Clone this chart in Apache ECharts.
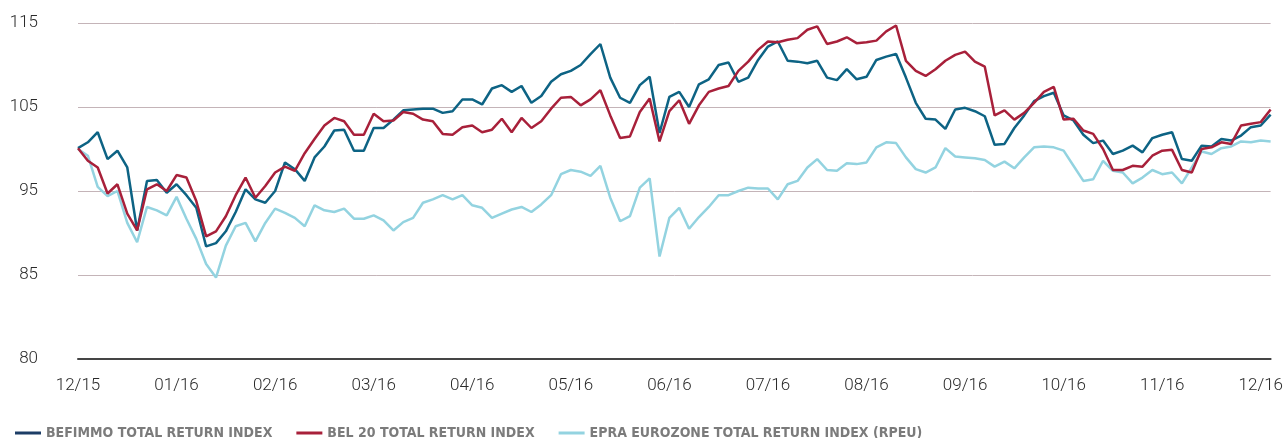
<!DOCTYPE html>
<html>
<head>
<meta charset="utf-8">
<title>Total return index</title>
<script src="https://cdn.jsdelivr.net/npm/echarts@6/dist/echarts.min.js"></script>
<style>
  html, body { margin: 0; padding: 0; background: #fff; }
  #chart { width: 1286px; height: 438px; }
</style>
</head>
<body>
<div id="chart"></div>
<script>
// month labels shown under the axis, one every 10 points
var tickLabels = ['12/15', '01/16', '02/16', '03/16', '04/16', '05/16', '06/16',
  '07/16', '08/16', '09/16', '10/16', '11/16', '12/16']

// values, ~10 points per month
var befimmo = [
  100.1, 100.8, 102.0, 98.8, 99.8, 97.8, 90.3, 96.2, 96.3, 94.8,
  95.8, 94.5, 93.0, 88.4, 88.8, 90.2, 92.5, 95.2, 94.0, 93.6,
  95.0, 98.4, 97.6, 96.2, 99.0, 100.3, 102.2, 102.3, 99.8, 99.8,
  102.5, 102.5, 103.5, 104.6, 104.7, 104.8, 104.8, 104.3, 104.5, 105.9,
  105.9, 105.3, 107.2, 107.6, 106.8, 107.5, 105.5, 106.3, 108.0, 108.9,
  109.3, 110.0, 111.3, 112.5, 108.5, 106.1, 105.5, 107.6, 108.6, 101.9,
  106.2, 106.8, 105.0, 107.7, 108.3, 110.0, 110.3, 108.0, 108.5, 110.6,
  112.2, 112.8, 110.5, 110.4, 110.2, 110.5, 108.5, 108.2, 109.5, 108.3,
  108.6, 110.6, 111.0, 111.3, 108.5, 105.5, 103.6, 103.5, 102.4, 104.7,
  104.9, 104.5, 103.9, 100.5, 100.6, 102.5, 104.0, 105.7, 106.3, 106.7,
  104.0, 103.4, 101.7, 100.7, 101.0, 99.4, 99.8, 100.4, 99.6, 101.3,
  101.7, 102.0, 98.8, 98.6, 100.4, 100.3, 101.2, 101.0, 101.6, 102.6,
  102.8, 104.1
]
var bel20 = [
  100.1, 98.6, 97.8, 94.7, 95.8, 92.3, 90.3, 95.2, 95.8, 95.0,
  96.9, 96.6, 93.8, 89.6, 90.2, 92.0, 94.5, 96.6, 94.2, 95.6,
  97.2, 97.9, 97.4, 99.5, 101.2, 102.8, 103.7, 103.3, 101.7, 101.7,
  104.2, 103.3, 103.4, 104.4, 104.2, 103.5, 103.3, 101.8, 101.7, 102.6,
  102.8, 102.0, 102.3, 103.6, 102.0, 103.7, 102.5, 103.3, 104.8, 106.1,
  106.2, 105.2, 105.9, 107.0, 104.0, 101.3, 101.5, 104.4, 106.0, 100.9,
  104.5, 105.8, 103.0, 105.2, 106.8, 107.2, 107.5, 109.3, 110.4, 111.8,
  112.8, 112.7, 113.0, 113.2, 114.2, 114.6, 112.5, 112.8, 113.3, 112.6,
  112.7, 112.9, 114.0, 114.7, 110.5, 109.3, 108.7, 109.5, 110.5, 111.2,
  111.6, 110.4, 109.8, 104.0, 104.6, 103.5, 104.3, 105.5, 106.8, 107.4,
  103.5, 103.6, 102.2, 101.8, 100.0, 97.5, 97.5, 98.0, 97.9, 99.2,
  99.8, 99.9, 97.5, 97.2, 100.0, 100.2, 100.8, 100.6, 102.8, 103.0,
  103.2, 104.7
]
var epra = [
  100.0, 99.2, 95.5, 94.4, 95.0, 91.2, 88.9, 93.1, 92.7, 92.1,
  94.3, 91.7, 89.3, 86.3, 84.7, 88.5, 90.8, 91.2, 89.0, 91.2,
  92.9, 92.4, 91.8, 90.8, 93.3, 92.7, 92.5, 92.9, 91.7, 91.7,
  92.1, 91.5, 90.3, 91.3, 91.8, 93.6, 94.0, 94.5, 94.0, 94.5,
  93.3, 93.0, 91.8, 92.3, 92.8, 93.1, 92.5, 93.4, 94.5, 97.0,
  97.5, 97.3, 96.8, 98.0, 94.2, 91.4, 92.0, 95.4, 96.5, 87.2,
  91.8, 93.0, 90.5, 91.9, 93.1, 94.5, 94.5, 95.0, 95.4, 95.3,
  95.3, 94.0, 95.8, 96.2, 97.8, 98.8, 97.5, 97.4, 98.3, 98.2,
  98.4, 100.2, 100.8, 100.7, 99.0, 97.6, 97.2, 97.8, 100.1, 99.1,
  99.0, 98.9, 98.7, 97.9, 98.5, 97.7, 99.0, 100.2, 100.3, 100.2,
  99.8, 98.0, 96.2, 96.4, 98.6, 97.4, 97.2, 95.9, 96.6, 97.5,
  97.0, 97.2, 95.9, 97.8, 99.7, 99.4, 100.1, 100.3, 100.9, 100.8,
  101.0, 100.9
]

var seriesNames = ['BEFIMMO TOTAL RETURN INDEX', 'BEL 20 TOTAL RETURN INDEX', 'EPRA EUROZONE TOTAL RETURN INDEX (RPEU)']
var colors = ['#0d6384', '#a8203a', '#93d3e0']

var categories = befimmo.map(function (v, i) {
  return i % 10 === 0 ? tickLabels[i / 10] : ''
})

function lineSeries(name, data, color) {
  return {
    name: name,
    type: 'line',
    data: data,
    symbol: 'none',
    lineStyle: { width: 2.5, color: color },
    itemStyle: { color: color }
  }
}

var tickFont = { fontFamily: 'Roboto, "Liberation Sans", sans-serif', fontWeight: 300, fontSize: 17, color: '#2a2a2a' }

var option = {
  animation: false,
  grid: { left: 78, right: 14, top: 23, bottom: 79 },
  legend: {
    left: 10,
    top: 421,
    icon: 'rect',
    itemWidth: 26,
    itemHeight: 3,
    itemGap: 24,
    textStyle: { fontFamily: '"Liberation Sans Narrow", "DejaVu Sans Condensed", sans-serif', fontSize: 14, fontWeight: 'bold', color: '#7b7b7b' },
    data: [
      { name: seriesNames[0], itemStyle: { color: '#1c3d66' } },
      { name: seriesNames[1] },
      { name: seriesNames[2] }
    ]
  },
  xAxis: {
    type: 'category',
    data: categories,
    boundaryGap: false,
    axisLine: { lineStyle: { color: '#454545', width: 2 } },
    axisTick: { show: false },
    axisLabel: Object.assign({ interval: 9, margin: 18 }, tickFont),
    splitLine: { show: false }
  },
  yAxis: {
    type: 'value',
    min: 75,
    max: 115,
    interval: 10,
    axisLine: { show: false },
    axisTick: { show: false },
    axisLabel: Object.assign({
      margin: 40,
      // bottom tick is labelled 80 in the original chart
      formatter: function (v) { return v === 75 ? '80' : String(v) }
    }, tickFont),
    splitLine: { lineStyle: { color: '#c4b4b8', width: 1 } }
  },
  series: [
    lineSeries(seriesNames[2], epra, colors[2]),
    lineSeries(seriesNames[0], befimmo, colors[0]),
    lineSeries(seriesNames[1], bel20, colors[1])
  ]
}

var myChart = echarts.init(document.getElementById('chart'))
myChart.setOption(option)
</script>
</body>
</html>
